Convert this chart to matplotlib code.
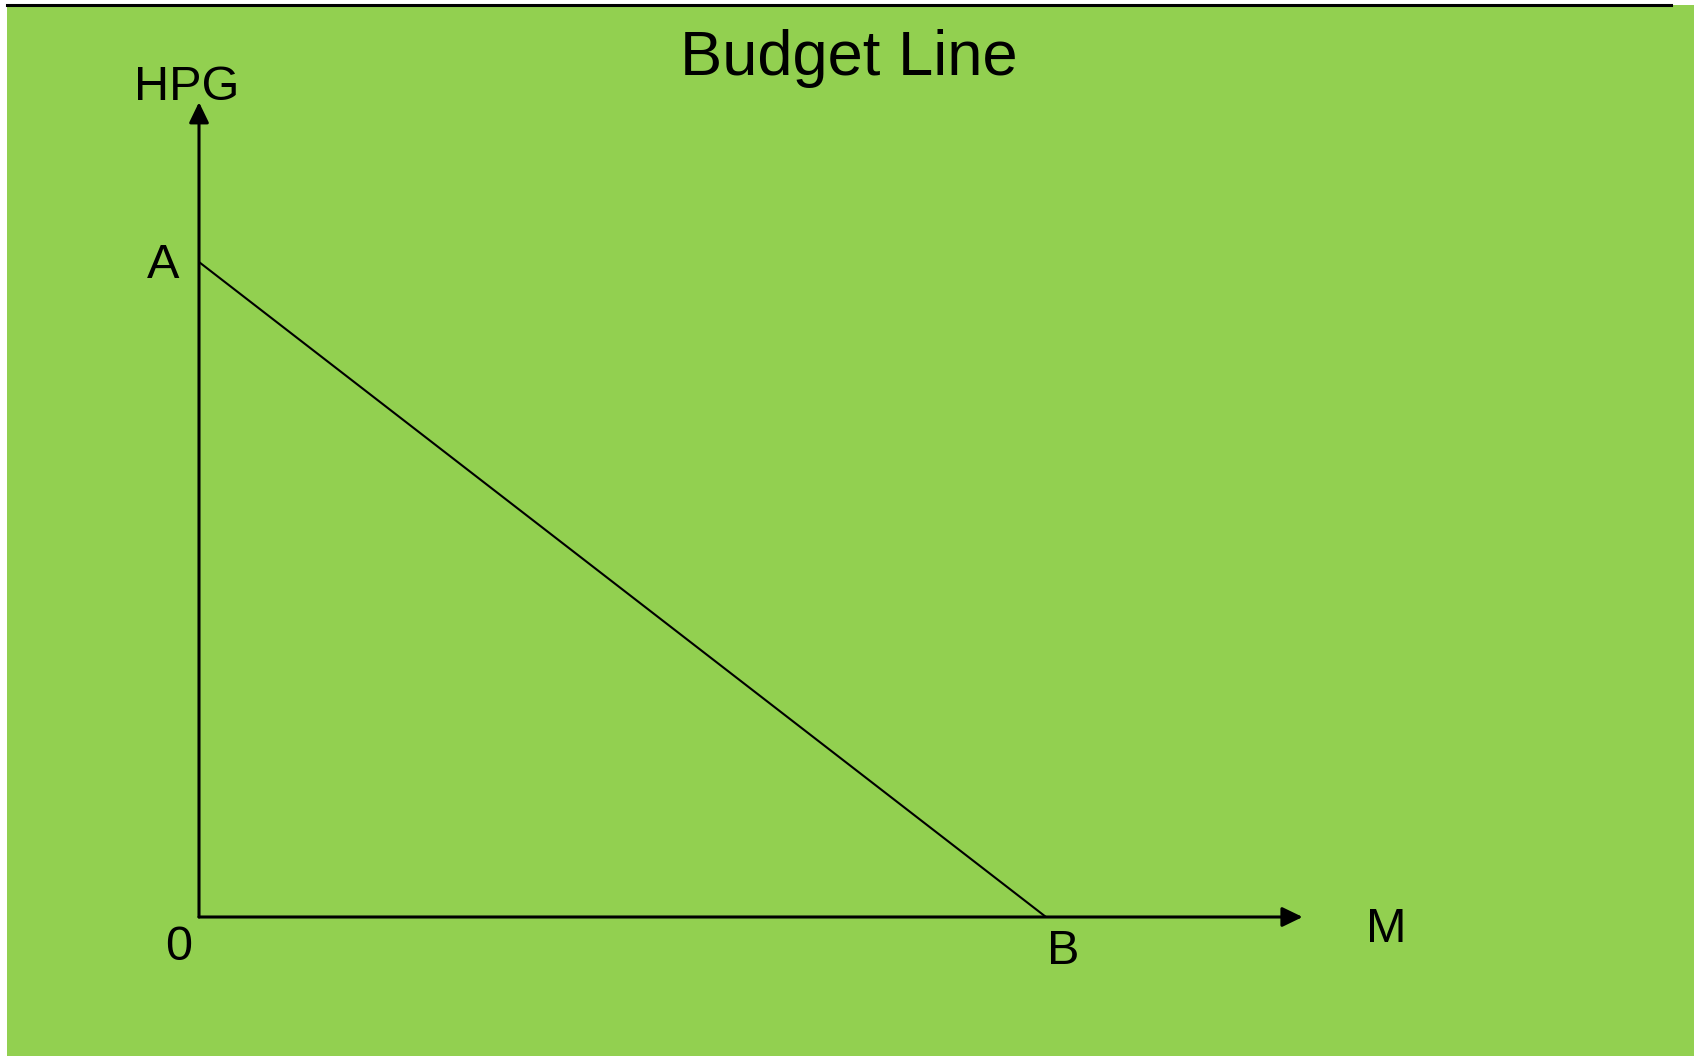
"""
budget_line.py
==============
Budget line diagram: HPG vs M, intercepts A and B.
"""
import matplotlib
matplotlib.use('Agg')
import matplotlib.pyplot as plt
from matplotlib.patches import Rectangle
from matplotlib.lines import Line2D

# ===== DATA =====
# budget line endpoints (M, HPG)
budget_m   = [0.0, 10.0]
budget_hpg = [10.0, 0.0]
point_labels = ['A', 'B']
x_label = 'M'
y_label = 'HPG'
origin_label = '0'
title = 'Budget Line'

# axis arrow lengths (same units as the data)
X_AXIS_END = 13.03
Y_AXIS_END = 12.44

# ===== STYLE =====
BG_GREEN = '#92D050'
FONT = 'Liberation Sans'
plt.rcParams['font.family'] = [FONT, 'DejaVu Sans']

W, H = 1694, 1056
fig = plt.figure(figsize=(W / 100, H / 100), dpi=100)
fig.patch.set_facecolor('white')

# green slide background + black rule on top
fig.patches.append(Rectangle((7 / W, 0), 1 - 7 / W, 1 - 5 / H,
                             transform=fig.transFigure, facecolor=BG_GREEN,
                             edgecolor='none', zorder=-5))
fig.lines.append(Line2D([7 / W, 1671 / W], [1 - 4.5 / H, 1 - 4.5 / H],
                        transform=fig.transFigure, color='black', lw=2.2,
                        zorder=-4))

ax = fig.add_axes([0, 0, 1, 1])
ax.set_zorder(2)
ax.set_facecolor('none')
ax.axis('off')

# data -> pixel mapping: origin at (199, 917), A at y=262, B at x=1046
ux = (1046 - 199) / budget_m[1]
uy = (917 - 262) / budget_hpg[0]
ax.set_xlim(-199 / ux, (W - 199) / ux)
ax.set_ylim(-(H - 917) / uy, 917 / uy)

# axes with arrow heads
arrow = dict(arrowstyle='-|>,head_length=0.62,head_width=0.3',
             mutation_scale=20, color='black', lw=2.2,
             shrinkA=0, shrinkB=0)
ax.annotate('', xy=(X_AXIS_END, 0), xytext=(0, 0), arrowprops=arrow)
ax.annotate('', xy=(0, Y_AXIS_END), xytext=(0, 0), arrowprops=arrow)

# budget line
ax.plot(budget_m, budget_hpg, color='black', lw=1.5, solid_capstyle='butt')

# labels
fs = 35
ax.annotate(point_labels[0], (budget_m[0], budget_hpg[0]), xytext=(-36, -4),
            textcoords='offset pixels', ha='center', va='center', fontsize=fs)
ax.annotate(point_labels[1], (budget_m[1], budget_hpg[1]), xytext=(17, -35),
            textcoords='offset pixels', ha='center', va='center', fontsize=fs)
ax.annotate(origin_label, (0, 0), xytext=(-20, -30),
            textcoords='offset pixels', ha='center', va='center', fontsize=fs)
ax.annotate(x_label, (X_AXIS_END, 0), xytext=(84, -12),
            textcoords='offset pixels', ha='center', va='center', fontsize=fs)
ax.annotate(y_label, (0, Y_AXIS_END), xytext=(-12, 15),
            textcoords='offset pixels', ha='center', va='center', fontsize=fs)

fig.text(849 / W, 1 - 75 / H, title, ha='center', va='baseline', fontsize=45.5)

fig.savefig('out.png', dpi=100)
